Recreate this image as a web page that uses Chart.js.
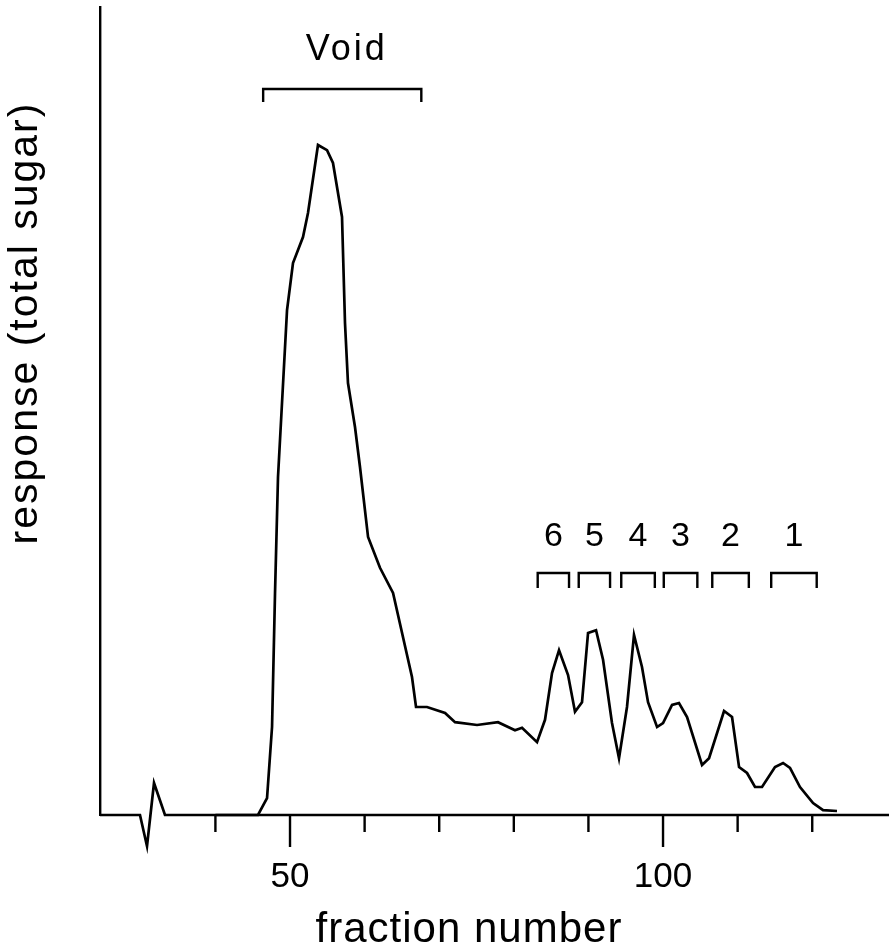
<!DOCTYPE html>
<html>
<head>
<meta charset="utf-8">
<script src="https://cdn.jsdelivr.net/npm/chart.js@4/dist/chart.umd.min.js"></script>
<style>
  html, body { margin: 0; padding: 0; background: #fff; }
  canvas { display: block; }
</style>
</head>
<body>
<canvas id="chart" width="889" height="951"></canvas>
<script>
// fraction number vs. total sugar response
const fractions = [24.53, 29.89, 30.83, 31.77, 33.24, 45.71, 46.92, 47.59, 47.99, 48.39,
  49.60, 50.40, 51.74, 52.41, 53.75, 54.96, 55.76, 56.97, 57.37, 57.77,
  58.71, 59.38, 60.46, 62.06, 63.81, 66.35, 66.89, 68.36, 70.78, 72.12,
  75.07, 77.88, 80.16, 81.10, 83.11, 84.18, 85.12, 86.06, 87.27, 88.20,
  89.14, 89.95, 91.02, 91.96, 93.16, 94.10, 95.17, 96.11, 97.18, 97.99,
  99.20, 100.0, 101.21, 102.14, 103.22, 105.23, 106.17, 108.18, 109.25, 110.19,
  111.26, 112.33, 113.27, 115.01, 116.09, 117.02, 118.36, 120.11, 121.45, 123.32];
const response = [0, 0, -3.9, 4.0, 0, 0, 2.1, 11.0, 27.75, 42.25,
  63.1, 69.0, 72.25, 75.25, 83.75, 83.1, 81.5, 74.75, 61.5, 54.0,
  48.5, 43.5, 34.75, 30.9, 27.75, 17.25, 13.5, 13.5, 12.75, 11.6,
  11.25, 11.6, 10.6, 10.9, 9.1, 11.9, 17.75, 20.6, 17.5, 12.9,
  14.1, 22.75, 23.1, 19.4, 11.5, 7.1, 13.5, 22.5, 18.5, 14.1,
  11.0, 11.5, 13.75, 14.0, 12.25, 6.25, 7.1, 13.0, 12.25, 6.0,
  5.25, 3.5, 3.5, 6.0, 6.5, 5.9, 3.5, 1.5, 0.6, 0.5];

const tickValues = [40, 50, 60, 70, 80, 90, 100, 110, 120];
const labelledTicks = [50, 100];

const voidRange = [46.4, 67.6];
const peakNames = ['6', '5', '4', '3', '2', '1'];
const peakFrom = [83.2, 88.7, 94.4, 100.1, 106.6, 114.5];
const peakTo = [87.4, 92.9, 98.9, 104.6, 111.5, 120.6];

const ink = '#000';
const FONT = '"Liberation Sans", Arial, sans-serif';

const points = fractions.map((f, i) => ({ x: f, y: response[i] }));

// axis ticks, brackets and labels drawn on top of the chart
const overlay = {
  id: 'overlay',
  afterDraw(chart) {
    const { ctx, chartArea } = chart;
    const xs = chart.scales.x, ys = chart.scales.y;
    const base = ys.getPixelForValue(0);
    ctx.save();
    ctx.strokeStyle = ink;
    ctx.fillStyle = ink;
    ctx.lineWidth = 2.4;

    ctx.beginPath();
    ctx.moveTo(xs.getPixelForValue(tickValues[0]), base);
    ctx.lineTo(chartArea.right, base);
    ctx.stroke();

    tickValues.forEach(v => {
      const px = xs.getPixelForValue(v);
      const len = labelledTicks.includes(v) ? 32 : 17;
      ctx.beginPath();
      ctx.moveTo(px, base);
      ctx.lineTo(px, base + len);
      ctx.stroke();
    });

    function bracket(a, b, yVal, leg) {
      const x1 = xs.getPixelForValue(a), x2 = xs.getPixelForValue(b);
      const y = ys.getPixelForValue(yVal);
      ctx.beginPath();
      ctx.moveTo(x1, y + leg);
      ctx.lineTo(x1, y);
      ctx.lineTo(x2, y);
      ctx.lineTo(x2, y + leg);
      ctx.stroke();
    }

    ctx.textAlign = 'center';
    ctx.textBaseline = 'middle';

    bracket(voidRange[0], voidRange[1], 90.75, 13);
    ctx.font = '36px ' + FONT;
    ctx.letterSpacing = '3px';
    ctx.fillText('Void', xs.getPixelForValue(57.6), ys.getPixelForValue(95.6));

    ctx.font = '34px ' + FONT;
    ctx.letterSpacing = '0px';
    peakNames.forEach((name, i) => {
      bracket(peakFrom[i], peakTo[i], 30.25, 15);
      const mid = (peakFrom[i] + peakTo[i]) / 2;
      ctx.fillText(name, xs.getPixelForValue(mid), ys.getPixelForValue(34.75));
    });

    // axis titles
    ctx.textBaseline = 'alphabetic';
    ctx.font = '42px ' + FONT;
    ctx.letterSpacing = '1px';
    ctx.fillText('fraction number', 469, 942);

    ctx.translate(37, 323);
    ctx.rotate(-Math.PI / 2);
    ctx.font = '41px ' + FONT;
    ctx.letterSpacing = '2px';
    ctx.fillText('response (total sugar)', 0, 0);
    ctx.restore();
  }
};

new Chart(document.getElementById('chart'), {
  type: 'line',
  data: {
    datasets: [{
      data: points,
      borderColor: ink,
      borderWidth: 2.7,
      pointRadius: 0,
      tension: 0,
      fill: false,
      clip: false
    }]
  },
  options: {
    responsive: false,
    animation: false,
    layout: { padding: { top: 7, right: 0, left: 0, bottom: 0 } },
    plugins: { legend: { display: false }, tooltip: { enabled: false } },
    scales: {
      x: {
        type: 'linear',
        min: 24.53,
        max: 130.29,
        afterFit(s) { s.height = 136; },
        border: { display: false },
        grid: { display: false, drawTicks: true, tickLength: 41 },
        ticks: {
          stepSize: 10,
          autoSkip: false,
          maxRotation: 0,
          padding: 0,
          color: ink,
          font: { family: FONT, size: 35 },
          callback: v => labelledTicks.includes(v) ? String(v) : ''
        }
      },
      y: {
        min: 0,
        max: 101,
        afterFit(s) { s.width = 100; },
        border: { display: true, color: ink, width: 2.4 },
        grid: { display: false, drawTicks: false },
        ticks: { display: false }
      }
    }
  },
  plugins: [overlay]
});
</script>
</body>
</html>
